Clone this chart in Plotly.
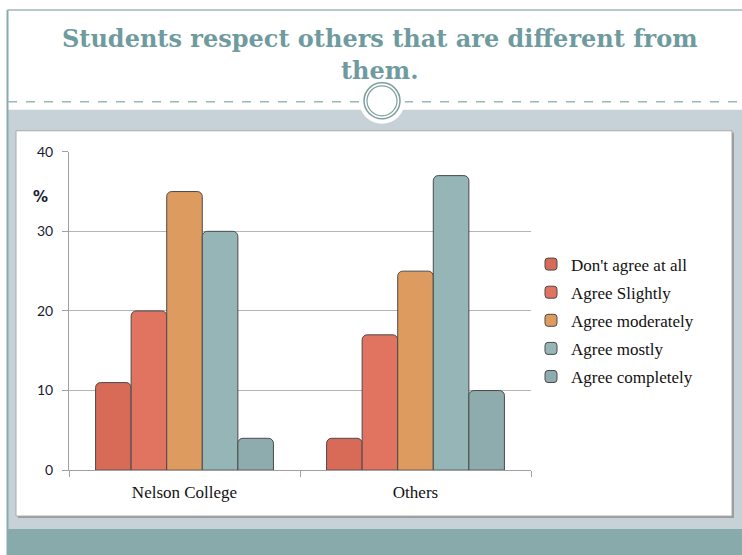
import plotly.graph_objects as go

categories = ["Nelson College", "Others"]
series_names = ["Don't agree at all", "Agree Slightly", "Agree moderately", "Agree mostly", "Agree completely"]
dont_agree = [11, 4]
agree_slightly = [20, 17]
agree_moderately = [35, 25]
agree_mostly = [30, 37]
agree_completely = [4, 10]
y_ticks = [0, 10, 20, 30, 40]

series_values = [dont_agree, agree_slightly, agree_moderately, agree_mostly, agree_completely]
colors = ["#d86a58", "#e07460", "#de9b5f", "#95b5b6", "#8eacad"]

W, H = 742, 555
# vertical mapping of target pixel rows onto paper coordinates
OFF, HE = 8.0, 539.0
def px(x):
    return x / W
def py(y):
    return 1 - (y - OFF) / HE

fig = go.Figure()
for i, (name, vals, col) in enumerate(zip(series_names, series_values, colors)):
    fig.add_trace(go.Bar(
        x=categories, y=vals, name=name,
        marker=dict(color=col, line=dict(color="#4a4a4a", width=1), cornerradius=5),
        legendgroup=f"g{i}",
    ))

shapes = []
shapes.append(dict(type="rect", xref="paper", yref="paper", x0=0, x1=1, y0=py(560), y1=py(-10),
                   fillcolor="white", line=dict(width=0), layer="below"))
shapes.append(dict(type="rect", xref="paper", yref="paper", x0=px(8), x1=1, y0=py(529), y1=py(109),
                   fillcolor="#c6d2d8", line=dict(width=0), layer="below"))
shapes.append(dict(type="rect", xref="paper", yref="paper", x0=px(8), x1=1, y0=py(560), y1=py(529),
                   fillcolor="#88aaaa", line=dict(width=0), layer="below"))
shapes.append(dict(type="line", xref="paper", yref="paper", x0=px(7.5), x1=px(7.5), y0=py(560), y1=py(9),
                   line=dict(color="#8aabab", width=2), layer="below"))
shapes.append(dict(type="line", xref="paper", yref="paper", x0=px(7.5), x1=1, y0=py(9), y1=py(9),
                   line=dict(color="#9fb5b8", width=1.5), layer="below"))
shapes.append(dict(type="line", xref="paper", yref="paper", x0=px(8), x1=1, y0=py(101), y1=py(101),
                   line=dict(color="#9ab8b8", width=1.5, dash="dash"), layer="below"))
shapes.append(dict(type="rect", xref="paper", yref="paper", x0=px(18), x1=px(734), y0=py(518), y1=py(132),
                   fillcolor="#9c9c9c", line=dict(width=0), layer="below"))
shapes.append(dict(type="rect", xref="paper", yref="paper", x0=px(16), x1=px(732), y0=py(516), y1=py(130),
                   fillcolor="white", line=dict(color="#a8a8a8", width=1), layer="below"))
cx, cy = 382, 100
for r, fill, lc, lw in [(23, "white", "white", 0), (18, "white", "#7e9f9f", 1.5), (15, "rgba(0,0,0,0)", "#7e9f9f", 1.2)]:
    shapes.append(dict(type="circle", xref="paper", yref="paper",
                       x0=px(cx - r), x1=px(cx + r), y0=py(cy + r), y1=py(cy - r),
                       fillcolor=fill, line=dict(color=lc, width=lw), layer="below"))

title_font = dict(family="DejaVu Serif", size=24, color="#6f9b9f")
annotations = [
    dict(text="<b>Students respect others that are different from</b>",
         xref="paper", yref="paper", x=px(380), y=py(38), xanchor="center", yanchor="middle",
         showarrow=False, font=title_font),
    dict(text="<b>them.</b>",
         xref="paper", yref="paper", x=px(380), y=py(70), xanchor="center", yanchor="middle",
         showarrow=False, font=title_font),
    dict(text="<b>%</b>", xref="paper", yref="paper", x=px(40), y=py(196), xanchor="center", yanchor="middle",
         showarrow=False, font=dict(family="DejaVu Sans", size=15, color="#1a1a30")),
]

fig.update_layout(
    width=W, height=H, autosize=False,
    margin=dict(l=0, r=0, t=0, b=0),
    paper_bgcolor="white",
    plot_bgcolor="#f3f7f8",
    barmode="group", bargap=0.23, bargroupgap=0,
    shapes=shapes, annotations=annotations,
    showlegend=True,
    legend=dict(x=px(531), y=py(246), xanchor="left", yanchor="top",
                font=dict(family="Liberation Serif", size=17, color="#111111"),
                traceorder="grouped", tracegroupgap=3, bgcolor="rgba(0,0,0,0)",
                itemwidth=30),
    xaxis=dict(domain=[px(69), px(531)], showline=True, linecolor="#a0a0a0", linewidth=1,
               ticks="outside", tickson="boundaries", ticklen=6, tickcolor="#a0a0a0",
               tickfont=dict(family="Liberation Serif", size=17, color="#111111"),
               ticklabelstandoff=6, showgrid=False),
    yaxis=dict(domain=[py(470), py(151)], range=[0, 40], tickvals=y_ticks,
               showline=True, linecolor="#a0a0a0", linewidth=1,
               ticks="outside", ticklen=6, tickcolor="#a0a0a0",
               tickfont=dict(family="Lato", size=14, color="#1a1a30"),
               ticklabelstandoff=6,
               showgrid=True, gridcolor="#b5b5b5", gridwidth=1, zeroline=False),
)

post = "document.body.style.margin='0';document.documentElement.style.overflow='hidden';"
fig.write_html("out.html", config={"displayModeBar": False}, post_script=post)
